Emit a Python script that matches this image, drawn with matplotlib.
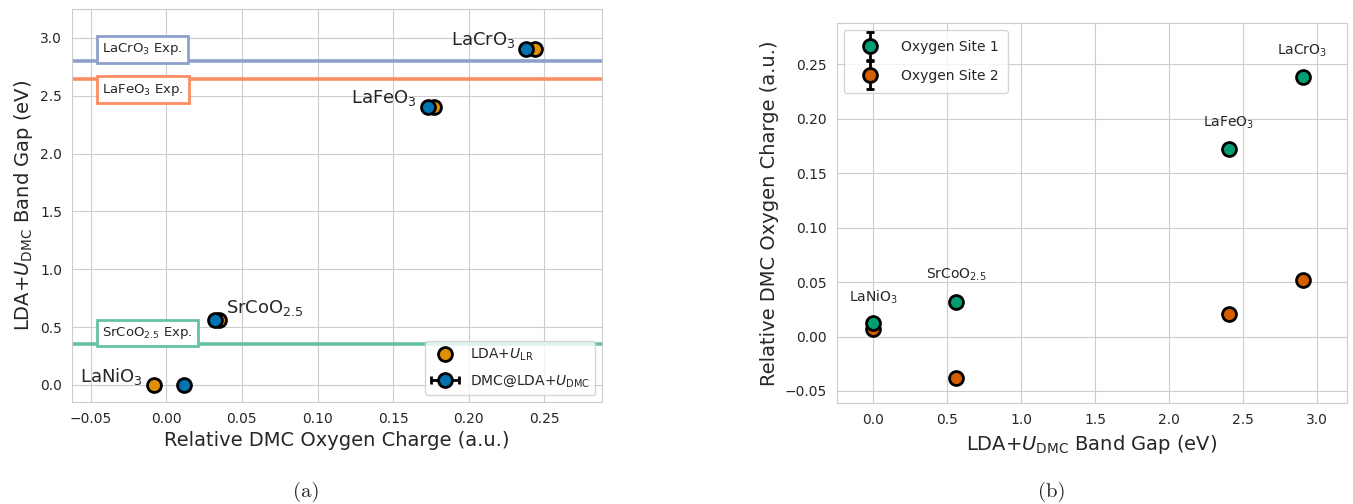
import matplotlib
matplotlib.use("Agg")
import matplotlib.pyplot as plt
import seaborn as sns
from matplotlib.container import ErrorbarContainer
from matplotlib.legend_handler import HandlerErrorbar

sns.set_style("whitegrid")
plt.rcParams['font.family'] = ['DejaVu Sans']

# materials, in the order LaNiO3, SrCoO2.5, LaFeO3, LaCrO3
materials = [r'LaNiO$_3$', r'SrCoO$_{2.5}$', r'LaFeO$_3$', r'LaCrO$_3$']
gap_dmc = [0.0, 0.56, 2.40, 2.90]              # LDA+U_DMC band gap (eV)
charge_lr = [-0.008, 0.035, 0.177, 0.244]      # LDA+U_LR
charge_dmc = [0.012, 0.032, 0.173, 0.238]      # DMC@LDA+U_DMC
charge_dmc_err = [0.001, 0.001, 0.001, 0.001]

exp_names = [r'LaCrO$_3$ Exp.', r'LaFeO$_3$ Exp.', r'SrCoO$_{2.5}$ Exp.']
exp_gaps = [2.80, 2.64, 0.35]

site1 = [0.012, 0.032, 0.172, 0.238]
site2 = [0.007, -0.038, 0.021, 0.052]
site_err = [0.001, 0.001, 0.001, 0.001]

blue, orange = '#0173b2', '#de8f05'
green, verm = '#029e73', '#d55e00'
exp_colors = ['#8da0cb', '#fc8d62', '#66c2a5']

fig = plt.figure(figsize=(13.53, 5.04), dpi=100)
ax1 = fig.add_axes([0.0532, 0.2024, 0.392, 0.7796])
ax2 = fig.add_axes([0.6184, 0.1998, 0.377, 0.7540])

# ---- (a) band gap vs charge
for name, g, c in zip(exp_names, exp_gaps, exp_colors):
    ax1.axhline(g, color=c, lw=2.6, zorder=1)
    dy = -0.088 if 'Fe' in name else 0.1
    ax1.text(-0.0425, g + dy, name, fontsize=9.5, ha='left', va='center',
             color='#262626', zorder=4,
             bbox=dict(boxstyle='square,pad=0.4', fc='white', ec=c, lw=2))

ax1.plot(charge_lr, gap_dmc, 'o', color=orange, ms=10, mec='k', mew=2,
         label=r'LDA+$U_{\rm LR}$', zorder=3)
ax1.errorbar(charge_dmc, gap_dmc, xerr=charge_dmc_err, fmt='o', color=blue,
             ms=10, mec='k', mew=2, ecolor='k', elinewidth=2, capsize=3,
             capthick=2, label=r'DMC@LDA+$U_{\rm DMC}$', zorder=3)

offsets = [(-8, 2, 'right', charge_lr), (5, 5, 'left', charge_lr),
           (-8, 3, 'right', charge_dmc), (-8, 3, 'right', charge_dmc)]
for i, (dx, dy, ha, xs) in enumerate(offsets):
    ax1.annotate(materials[i], (xs[i], gap_dmc[i]), xytext=(dx, dy),
                 textcoords='offset points', ha=ha, va='baseline', fontsize=13)

ax1.set_xlim(-0.0624, 0.2884)
ax1.set_ylim(-0.147, 3.248)
ax1.set_xticks([-0.05, 0.0, 0.05, 0.1, 0.15, 0.2, 0.25])
ax1.set_yticks([0.0, 0.5, 1.0, 1.5, 2.0, 2.5, 3.0])
ax1.tick_params(labelsize=10)
ax1.set_xlabel('Relative DMC Oxygen Charge (a.u.)', fontsize=14)
ax1.set_ylabel(r'LDA+$U_{\rm DMC}$ Band Gap (eV)', fontsize=14)
ax1.legend(loc='lower right', fontsize=10, labelspacing=0.75,
           handler_map={ErrorbarContainer: HandlerErrorbar(xerr_size=1.0)})

# ---- (b) charge vs band gap
ax2.errorbar(gap_dmc, site1, yerr=site_err, fmt='o', color=green, ms=10,
             mec='k', mew=2, ecolor='k', elinewidth=2, capsize=3, capthick=2,
             label='Oxygen Site 1', zorder=4)
ax2.errorbar(gap_dmc, site2, yerr=site_err, fmt='o', color=verm, ms=10,
             mec='k', mew=2, ecolor='k', elinewidth=2, capsize=3, capthick=2,
             label='Oxygen Site 2', zorder=3)
for i, m in enumerate(materials):
    ax2.annotate(m, (gap_dmc[i], site1[i]), xytext=(0, 19),
                 textcoords='offset points', ha='center', va='center',
                 fontsize=10, color='#262626')

ax2.set_xlim(-0.247, 3.199)
ax2.set_ylim(-0.0613, 0.2876)
ax2.set_xticks([0.0, 0.5, 1.0, 1.5, 2.0, 2.5, 3.0])
ax2.set_yticks([-0.05, 0.0, 0.05, 0.1, 0.15, 0.2, 0.25])
ax2.tick_params(labelsize=10)
ax2.set_xlabel(r'LDA+$U_{\rm DMC}$ Band Gap (eV)', fontsize=14)
ax2.set_ylabel('Relative DMC Oxygen Charge (a.u.)', fontsize=14)
ax2.legend(loc='upper left', fontsize=10, labelspacing=1.1, borderpad=0.7,
           handlelength=2.4, handletextpad=1.0,
           handler_map={ErrorbarContainer: HandlerErrorbar(xerr_size=1.0)})

fig.text(0.226, 0.024, '(a)', fontsize=15, family='cmr10', ha='center', va='center')
fig.text(0.7775, 0.024, '(b)', fontsize=15, family='cmr10', ha='center', va='center')

fig.savefig('out.png', dpi=100)
